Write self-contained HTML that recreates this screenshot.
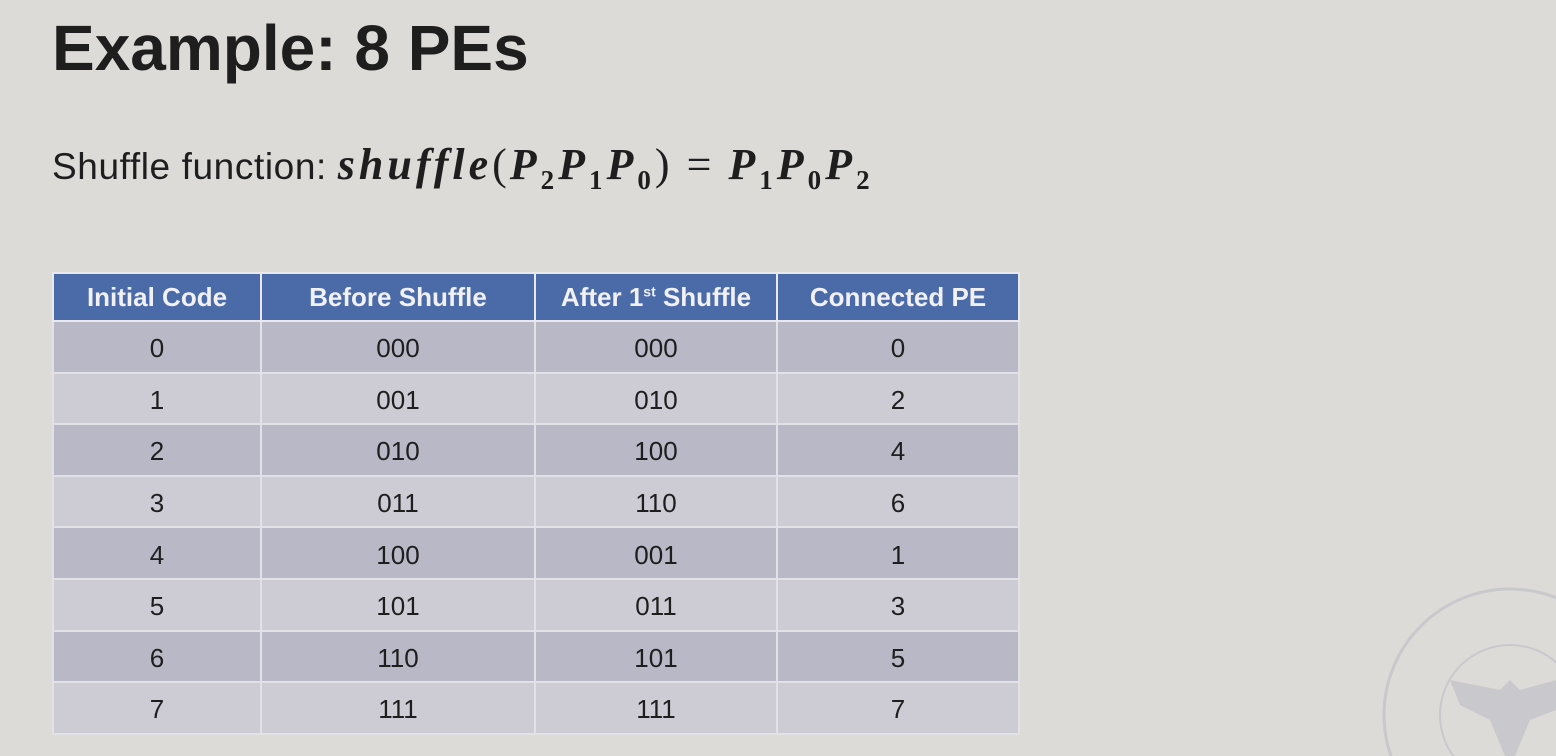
<!DOCTYPE html>
<html><head><meta charset="utf-8"><style>
html,body{margin:0;width:1556px;height:756px;overflow:hidden}
body{background:#dcdbd7;position:relative;font-family:"Liberation Sans",sans-serif;color:#1e1e1e}
.t{position:absolute;left:52px;top:10px;font-size:64px;font-weight:bold;line-height:76px}
.s{position:absolute;left:52px;top:140px;font-size:37px;letter-spacing:0.6px;white-space:nowrap;line-height:50px}
.m{font-family:"Liberation Serif",serif;font-weight:bold;font-style:italic;font-size:44px;letter-spacing:4px}
.m sub{font-size:27px;font-style:normal;line-height:0}
.p{font-family:"Liberation Serif",serif;font-size:44px;letter-spacing:3px}
table{position:absolute;left:52px;top:272px;border-collapse:collapse;table-layout:fixed}
td,th{border:2px solid #e2e1e6;text-align:center;font-size:26px;padding:0;height:49.6px}
td{padding-top:4px;height:45.6px}
th{background:#4a6aa8;color:#f0f0f5;font-weight:bold;height:46px;border-color:#e8e8ee}
tr:nth-child(even) td{background:#b9b8c6}
tr:nth-child(odd) td{background:#cdccd4}
</style></head><body>
<div class="t">Example: 8 PEs</div>
<div class="s">Shuffle function: <span class="m">shuffle</span><span class="p">(</span><span class="m">P<sub>2</sub>P<sub>1</sub>P<sub>0</sub></span><span class="p">) = </span><span class="m">P<sub>1</sub>P<sub>0</sub>P<sub>2</sub></span></div>
<table>
<colgroup><col style="width:208px"><col style="width:274px"><col style="width:242px"><col style="width:242px"></colgroup>
<tr><th>Initial Code</th><th>Before Shuffle</th><th>After 1<sup style="font-size:14px">st</sup> Shuffle</th><th>Connected PE</th></tr>
<tr><td>0</td><td>000</td><td>000</td><td>0</td></tr>
<tr><td>1</td><td>001</td><td>010</td><td>2</td></tr>
<tr><td>2</td><td>010</td><td>100</td><td>4</td></tr>
<tr><td>3</td><td>011</td><td>110</td><td>6</td></tr>
<tr><td>4</td><td>100</td><td>001</td><td>1</td></tr>
<tr><td>5</td><td>101</td><td>011</td><td>3</td></tr>
<tr><td>6</td><td>110</td><td>101</td><td>5</td></tr>
<tr><td>7</td><td>111</td><td>111</td><td>7</td></tr>
</table>
<svg style="position:absolute;left:1370px;top:580px" width="186" height="176">
<circle cx="140" cy="135" r="126" fill="none" stroke="#c9c8cc" stroke-width="3"/>
<circle cx="140" cy="135" r="70" fill="none" stroke="#c9c8cc" stroke-width="2"/>
<path d="M80 100 L130 110 L140 100 L150 110 L186 100 L186 130 L160 140 L145 176 L135 176 L120 140 L90 125Z" fill="#c9c8cc"/>
</svg>
</body></html>
